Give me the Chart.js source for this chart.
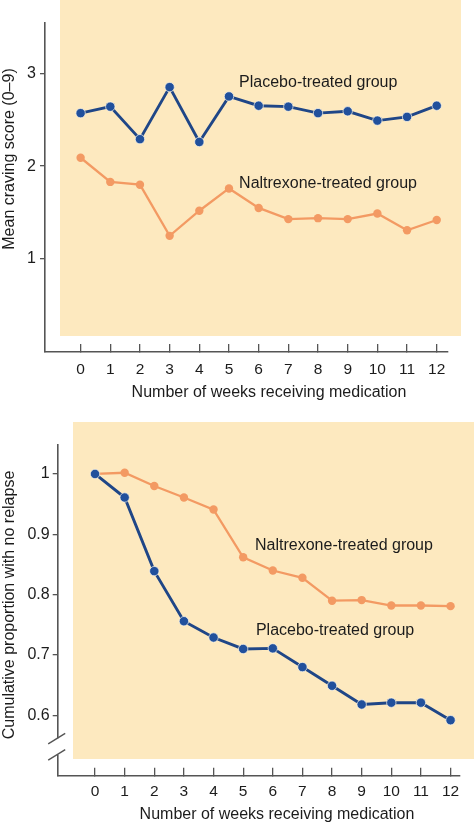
<!DOCTYPE html>
<html>
<head>
<meta charset="utf-8">
<script src="https://cdn.jsdelivr.net/npm/chart.js@4"></script>
<style>
  html, body { margin: 0; padding: 0; background: #fff; }
  .wrap { position: absolute; left: 0; width: 474px; }
  #top { top: 0; height: 410px; }
  #bottom { top: 410px; height: 415px; }
</style>
</head>
<body>
<div class="wrap" id="top"><canvas id="cravingChart" width="474" height="410"></canvas></div>
<div class="wrap" id="bottom"><canvas id="relapseChart" width="474" height="415"></canvas></div>
<script>
const weeks = [0, 1, 2, 3, 4, 5, 6, 7, 8, 9, 10, 11, 12];

// mean craving score (0-9)
const cravingPlacebo = [2.57, 2.64, 2.29, 2.85, 2.26, 2.75, 2.65, 2.64, 2.57, 2.59, 2.49, 2.53, 2.65];
const cravingNaltrexone = [2.09, 1.83, 1.80, 1.25, 1.52, 1.76, 1.55, 1.43, 1.44, 1.43, 1.49, 1.31, 1.42];
const cravingTicks = [1, 2, 3];

// cumulative proportion with no relapse
const relapsePlacebo = [1.0, 0.961, 0.839, 0.756, 0.729, 0.710, 0.711, 0.680, 0.649, 0.618, 0.621, 0.621, 0.592];
const relapseNaltrexone = [1.0, 1.002, 0.980, 0.961, 0.941, 0.862, 0.840, 0.828, 0.790, 0.791, 0.782, 0.782, 0.781];
const relapseTicks = [0.6, 0.7, 0.8, 0.9, 1];

const xTitle = 'Number of weeks receiving medication';
const placeboLabel = 'Placebo-treated group';
const naltrexoneLabel = 'Naltrexone-treated group';

const BLUE = '#21509c';
const BLUE_LINE = '#1f4687';
const ORANGE = '#f39a63';
const BEIGE = '#fde9bf';
const AXIS = '#555';
const TEXT = '#1c1c1c';
const FONT = '"Liberation Sans", Arial, sans-serif';

function toPoints(values) {
  return weeks.map((w, i) => ({ x: w, y: values[i] }));
}

function seriesSets(placebo, naltrexone) {
  return [
    {
      label: placeboLabel,
      data: toPoints(placebo),
      borderColor: BLUE_LINE,
      backgroundColor: BLUE,
      borderWidth: 2.9,
      pointRadius: 4.7,
      pointBackgroundColor: BLUE,
      pointBorderColor: 'rgba(255,250,235,0.7)',
      pointBorderWidth: 1,
      tension: 0
    },
    {
      label: naltrexoneLabel,
      data: toPoints(naltrexone),
      borderColor: ORANGE,
      backgroundColor: ORANGE,
      borderWidth: 2.3,
      pointRadius: 4.2,
      pointBackgroundColor: ORANGE,
      pointBorderWidth: 0,
      tension: 0
    }
  ];
}

// draws the shaded panel, free text labels and the axis break
function decorations(opts) {
  return {
    id: 'decorations',
    beforeDraw(chart) {
      const c = chart.ctx;
      c.save();
      c.fillStyle = '#fff';
      c.fillRect(0, 0, chart.width, chart.height);
      c.fillStyle = BEIGE;
      const b = opts.panel;
      c.fillRect(b[0], b[1], b[2] - b[0], b[3] - b[1]);
      c.restore();
    },
    afterDraw(chart) {
      const c = chart.ctx;
      const xs = chart.scales.x, ys = chart.scales.y;
      c.save();
      c.fillStyle = TEXT;
      c.textBaseline = 'middle';
      c.font = '16px ' + FONT;

      // series labels
      opts.labels.forEach(l => {
        c.textAlign = 'left';
        c.fillText(l.text, xs.getPixelForValue(l.x), ys.getPixelForValue(l.y));
      });

      // x title
      c.textAlign = 'center';
      c.fillText(xTitle, opts.xTitle[0], opts.xTitle[1]);

      // y title
      c.translate(opts.yTitle[0], opts.yTitle[1]);
      c.rotate(-Math.PI / 2);
      c.fillText(opts.yTitleText, 0, 0);
      c.restore();

      if (opts.breakAt) {
        const ax = chart.chartArea.left;
        const g1 = ys.getPixelForValue(opts.breakAt[0]);
        const g2 = ys.getPixelForValue(opts.breakAt[1]);
        c.save();
        c.fillStyle = '#fff';
        c.fillRect(ax - 3, g1, 6, g2 - g1);
        c.strokeStyle = AXIS;
        c.lineWidth = 1.4;
        [g1, g2].forEach(g => {
          c.beginPath();
          c.moveTo(ax - 9.5, g + 5.5);
          c.lineTo(ax + 7.5, g - 5);
          c.stroke();
        });
        c.restore();
      }
    }
  };
}

function makeChart(id, cfg) {
  const ctx = document.getElementById(id).getContext('2d');
  return new Chart(ctx, {
    type: 'line',
    data: { datasets: seriesSets(cfg.placebo, cfg.naltrexone) },
    options: {
      responsive: false,
      animation: false,
      devicePixelRatio: 1,
      layout: { padding: cfg.padding },
      plugins: { legend: { display: false }, tooltip: { enabled: false } },
      scales: {
        x: {
          type: 'linear',
          min: cfg.xMin,
          max: cfg.xMax,
          afterBuildTicks: s => { s.ticks = weeks.map(v => ({ value: v })); },
          afterFit: s => { s.height = cfg.xHeight; },
          grid: { drawOnChartArea: false, drawTicks: true, tickLength: -8, color: AXIS, lineWidth: 1.3 },
          border: { display: true, color: AXIS, width: 1.6 },
          ticks: { padding: cfg.xPad, color: TEXT, font: { family: FONT, size: 15.5 }, maxRotation: 0, autoSkip: false }
        },
        y: {
          type: 'linear',
          min: cfg.yMin,
          max: cfg.yMax,
          afterBuildTicks: s => { s.ticks = cfg.yTicks.map(v => ({ value: v })); },
          afterFit: s => { s.width = cfg.yWidth; },
          grid: { drawOnChartArea: false, drawTicks: true, tickLength: 5, color: AXIS, lineWidth: 1.3 },
          border: { display: true, color: AXIS, width: 1.6 },
          ticks: { padding: cfg.yPad, color: TEXT, font: { family: FONT, size: 16 }, callback: v => String(v) }
        }
      }
    },
    plugins: [decorations(cfg.deco)]
  });
}

makeChart('cravingChart', {
  placebo: cravingPlacebo,
  naltrexone: cravingNaltrexone,
  padding: { left: 0, top: 23, right: 26, bottom: 0 },
  xMin: -1.2, xMax: 12.38, xHeight: 58, xPad: 16,
  yMin: 0, yMax: 3.54, yTicks: cravingTicks, yWidth: 45, yPad: 4,
  deco: {
    panel: [60, 0, 461, 336],
    labels: [
      { text: placeboLabel, x: 5.34, y: 2.90 },
      { text: naltrexoneLabel, x: 5.34, y: 1.81 }
    ],
    xTitle: [269, 393],
    yTitle: [10, 159],
    yTitleText: 'Mean craving score (0\u20139)'
  }
});

makeChart('relapseChart', {
  placebo: relapsePlacebo,
  naltrexone: relapseNaltrexone,
  padding: { left: 0, top: 35, right: 14, bottom: 0 },
  xMin: -1.26, xMax: 12.31, xHeight: 49.3, xPad: 14.5,
  yMin: 0.5, yMax: 1.048, yTicks: relapseTicks, yWidth: 57.7, yPad: 3,
  deco: {
    panel: [73, 12, 474, 349],
    labels: [
      { text: naltrexoneLabel, x: 5.40, y: 0.881 },
      { text: placeboLabel, x: 5.43, y: 0.740 }
    ],
    xTitle: [277, 405],
    yTitle: [10, 195],
    yTitleText: 'Cumulative proportion with no relapse',
    breakAt: [0.562, 0.535]
  }
});
</script>
</body>
</html>
